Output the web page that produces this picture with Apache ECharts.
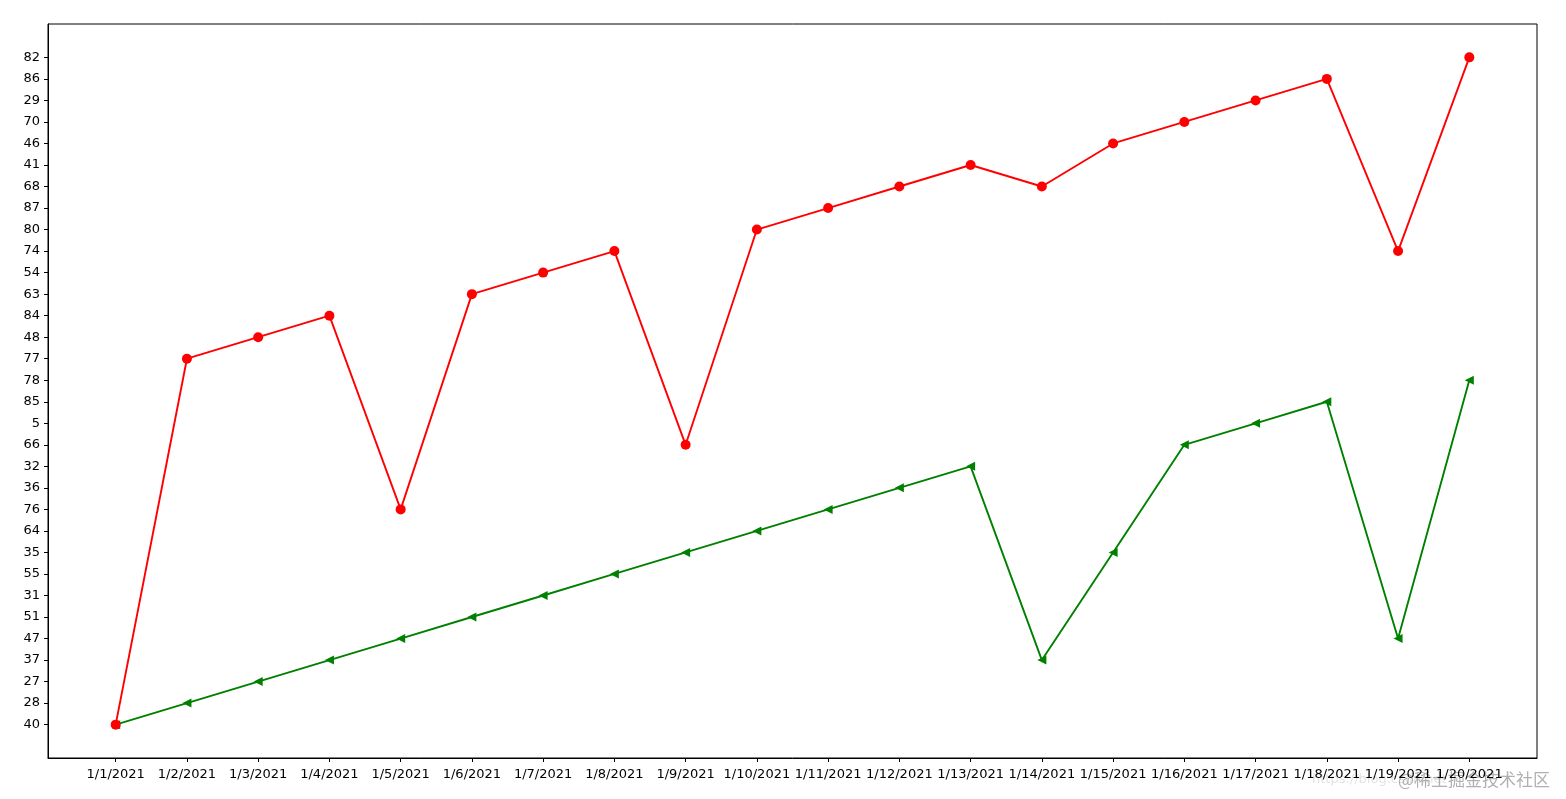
<!DOCTYPE html>
<html>
<head>
<meta charset="utf-8">
<script src="https://cdn.jsdelivr.net/npm/echarts@6/dist/echarts.min.js"></script>
<style>
html,body{margin:0;padding:0;background:#fff;}
#chart{width:1566px;height:799px;}
</style>
</head>
<body>
<div id="chart"></div>
<script>
// Dates (x categories)
var dates = ["1/1/2021","1/2/2021","1/3/2021","1/4/2021","1/5/2021","1/6/2021","1/7/2021","1/8/2021","1/9/2021","1/10/2021",
  "1/11/2021","1/12/2021","1/13/2021","1/14/2021","1/15/2021","1/16/2021","1/17/2021","1/18/2021","1/19/2021","1/20/2021"];
// Y values are strings (categorical axis in order of first appearance)
var yCategories = ["40","28","27","37","47","51","31","55","35","64","76","36","32","66","5","85","78",
  "77","48","84","63","54","74","80","87","68","41","46","70","29","86","82"];
var greenValues = ["40","28","27","37","47","51","31","55","35","64","76","36","32","37","35","66","5","85","47","78"];
var redValues = ["40","77","48","84","76","63","54","74","66","80","87","68","41","68","46","70","29","86","74","82"];

function toPoints(vals){
  return vals.map(function(v,i){ return [i, yCategories.indexOf(v)]; });
}
var xIdx = dates.map(function(d,i){return i;});
var yIdx = yCategories.map(function(d,i){return i;});
var xPad = (dates.length-1)*0.05;
var yPad = (yCategories.length-1)*0.05;

var chart = echarts.init(document.getElementById('chart'));
var font = 'DejaVu Sans';
chart.setOption({
  animation:false,
  backgroundColor:'#ffffff',
  grid:{left:48,right:29,top:24,bottom:41,show:true,borderColor:'#000',borderWidth:1},
  xAxis:{
    type:'value', min:-xPad, max:dates.length-1+xPad,
    splitLine:{show:false},
    axisLine:{show:true,onZero:false,lineStyle:{color:'#000',width:1}},
    axisTick:{show:true,length:4,lineStyle:{color:'#000'},customValues:xIdx},
    axisLabel:{color:'#000',fontFamily:font,fontSize:13,margin:10,customValues:xIdx,
      formatter:function(v){var i=Math.round(v);return dates[i]||'';}}
  },
  yAxis:{
    type:'value', min:-yPad, max:yCategories.length-1+yPad,
    splitLine:{show:false},
    axisLine:{show:true,onZero:false,lineStyle:{color:'#000',width:1}},
    axisTick:{show:true,length:4,lineStyle:{color:'#000'},customValues:yIdx},
    axisLabel:{color:'#000',fontFamily:font,fontSize:13,margin:8,customValues:yIdx,
      formatter:function(v){var i=Math.round(v);return yCategories[i]||'';}}
  },
  series:[
    {type:'line',data:toPoints(greenValues),symbol:'triangle',symbolRotate:90,symbolSize:9,
      showAllSymbol:true,lineStyle:{color:'#008000',width:1.9},itemStyle:{color:'#008000'}},
    {type:'line',data:toPoints(redValues),symbol:'circle',symbolSize:10,
      showAllSymbol:true,lineStyle:{color:'#ff0000',width:1.9},itemStyle:{color:'#ff0000'}}
  ],
  graphic:[
    {type:'text',left:1312,top:773,style:{text:'https://blog.csdn.net',fill:'rgba(200,200,200,0.5)',font:'13px "DejaVu Sans"'}},
    {type:'text',left:1398,top:771,style:{text:'@稀土掘金技术社区',fill:'rgba(150,150,150,0.75)',font:'17px "Noto Sans CJK SC"'}}
  ]
});
</script>
</body>
</html>
